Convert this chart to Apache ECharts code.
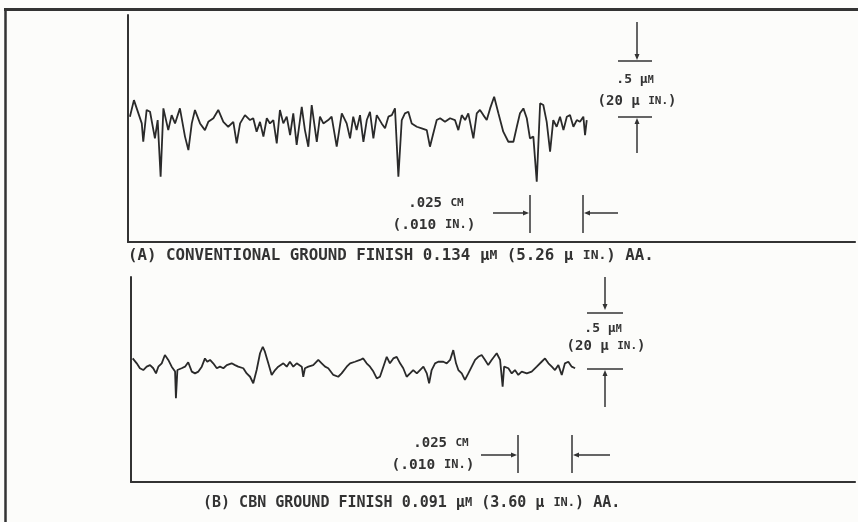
<!DOCTYPE html>
<html><head><meta charset="utf-8">
<script src="https://cdn.jsdelivr.net/npm/echarts@6/dist/echarts.min.js"></script>
<style>html,body{margin:0;padding:0;background:#fcfcfa}#c{width:858px;height:522px}</style>
</head><body><div id="c"></div>
<script>
// Profile (A): conventional ground finish. x = travel (µm), y = height (nm)
const distA = [9,28,65,72,88,104,127,140,154,167,190,206,222,245,269,285,301,316,340,363,379,403,426,450,473,497,513,529,552,576,591,607,623,639,655,670,686,702,717,733,749,765,780,796,820,835,851,867,891,906,922,945,961,985,1009,1032,1048,1063,1079,1095,1111,1127,1142,1158,1174,1197,1213,1229,1245,1260,1276,1292,1307,1323,1339,1363,1386,1410,1425,1441,1457,1473,1496,1520,1543,1559,1575,1591,1606,1630,1646,1661,1677,1693,1709,1728,1748,1771,1795,1819,1835,1850,1866,1882,1897,1913,1929,1945,1960,1976,1992,2007,2023,2039,2055,2071,2086,2102,2118,2133,2149,2157,2165];
const heightA = [12,160,-48,-212,72,56,-182,-18,-524,86,-108,26,-48,86,-166,-286,-48,72,-48,-108,-34,-2,72,-34,-78,-34,-226,-48,26,-18,-2,-122,-34,-166,-2,-48,-18,-226,72,-48,12,-152,42,-240,100,-108,-256,116,-212,12,-48,-18,12,-256,42,-48,-182,12,-108,26,-212,-18,56,-182,26,-48,-92,12,26,86,-524,-18,42,56,-48,-78,-92,-108,-256,-136,-18,-2,-34,-2,-18,-108,26,-18,42,-182,42,72,26,-18,86,190,42,-122,-212,-212,-78,42,86,-2,-182,-166,-568,132,116,-34,-300,-18,-78,12,-108,12,26,-78,-18,-34,12,-152,-18];
// Profile (B): CBN ground finish
const distB = [8,27,42,58,74,90,105,118,129,145,160,176,192,208,212,219,239,255,270,287,302,318,334,349,360,373,388,405,420,436,452,475,491,506,530,546,562,577,593,609,622,632,648,664,680,695,719,735,750,766,782,806,813,821,837,860,884,900,916,931,955,978,994,1018,1034,1057,1081,1096,1112,1128,1144,1160,1175,1191,1207,1222,1238,1254,1270,1285,1301,1317,1332,1349,1364,1380,1396,1407,1419,1435,1450,1474,1490,1506,1521,1534,1545,1561,1576,1592,1608,1624,1639,1655,1671,1686,1702,1726,1742,1754,1761,1781,1797,1812,1828,1844,1868,1891,1915,1938,1954,1970,1986,2001,2017,2033,2048,2064,2080,2096];
const heightB = [68,24,-20,-36,-6,8,-20,-66,-6,24,98,54,-6,-50,-288,-36,-20,-6,34,-50,-66,-50,-6,68,38,54,24,-20,-6,-20,8,24,8,-6,-20,-66,-96,-154,-36,114,172,128,24,-80,-36,-6,24,-6,38,-6,24,-6,-96,-20,-6,8,54,24,-6,-20,-80,-96,-66,-6,24,38,54,68,24,-6,-50,-110,-96,-6,82,24,68,82,24,-20,-96,-66,-36,-66,-36,-6,-66,-154,-36,24,38,38,24,54,142,24,-36,-66,-124,-66,-6,54,82,98,54,8,54,114,54,-184,-6,-20,-66,-36,-80,-50,-66,-50,-6,38,68,24,-6,-36,8,-80,24,38,-6,-20];

const captionA = '(A) CONVENTIONAL GROUND FINISH 0.134 µ{sc|M} (5.26 µ {sc|IN.}) AA.';
const captionB = '(B) CBN GROUND FINISH 0.091 µ{sc|M} (3.60 µ {sc|IN.}) AA.';
const vScaleTop = '.5 µ{sc|M}';
const vScaleBot = '(20 µ {sc|IN.})';
const hScaleTop = '.025 {sc|CM}';
const hScaleBot = '(.010 {sc|IN.})';

const INK = '#333333';
const FONT = '"DejaVu Sans Mono","Liberation Mono",monospace';

function pair(xs, ys){ return xs.map((x,i)=>[x, ys[i]]); }

function txt(x, y, text, size, align){
  return {type:'text', x:x, y:y, style:{text:text, fill:INK, fontFamily:FONT, fontSize:size, fontWeight:'bold',
    align:align||'center', verticalAlign:'middle',
    rich:{sc:{fontSize:Math.round(size*0.8), fontFamily:FONT, fontWeight:'bold', fill:INK}}}};
}
function ln(x1,y1,x2,y2,w){ return {type:'line', shape:{x1:x1,y1:y1,x2:x2,y2:y2}, style:{stroke:INK, lineWidth:w||1.5}}; }
function arrow(tx,ty,dir){
  const L=6, W=2.5; let pts;
  if(dir==='down') pts=[[tx,ty],[tx-W,ty-L],[tx+W,ty-L]];
  if(dir==='up') pts=[[tx,ty],[tx-W,ty+L],[tx+W,ty+L]];
  if(dir==='right') pts=[[tx,ty],[tx-L,ty-W],[tx-L,ty+W]];
  if(dir==='left') pts=[[tx,ty],[tx+L,ty-W],[tx+L,ty+W]];
  return {type:'polygon', shape:{points:pts}, style:{fill:INK}};
}

const axisCommon = {axisTick:{show:false}, axisLabel:{show:false}, splitLine:{show:false}};
const option = {
  backgroundColor:'#fcfcfa',
  animation:false,
  grid:[
    {left:128, right:3, top:15, bottom:280},
    {left:131, right:3, top:277, bottom:40}
  ],
  xAxis:[
    Object.assign({type:'value', gridIndex:0, min:0, max:3431, position:'bottom', axisLine:{show:true, onZero:false, lineStyle:{color:INK, width:2.2}}}, axisCommon),
    Object.assign({type:'value', gridIndex:1, min:0, max:3417, position:'bottom', axisLine:{show:true, onZero:false, lineStyle:{color:INK, width:2.2}}}, axisCommon)
  ],
  yAxis:[
    Object.assign({type:'value', gridIndex:0, min:-1107, max:920, axisLine:{show:true, onZero:false, lineStyle:{color:INK, width:2}}}, axisCommon),
    Object.assign({type:'value', gridIndex:1, min:-1036, max:795, axisLine:{show:true, onZero:false, lineStyle:{color:INK, width:2}}}, axisCommon)
  ],
  series:[
    {type:'line', xAxisIndex:0, yAxisIndex:0, data:pair(distA, heightA), showSymbol:false, lineStyle:{color:'#2a2a2a', width:1.8}},
    {type:'line', xAxisIndex:1, yAxisIndex:1, data:pair(distB, heightB), showSymbol:false, lineStyle:{color:'#2a2a2a', width:1.8}}
  ],
  graphic:[
    // outer frame
    ln(4,9.5,858,9.5,3), ln(5.5,9,5.5,522,2.5),
    // panel A vertical scale
    ln(637,22,637,58), arrow(637,60,'down'), ln(618,61,652,61),
    txt(635,80,vScaleTop,13), txt(637,101,vScaleBot,14),
    ln(618,117,652,117), arrow(637,118,'up'), ln(637,122,637,153),
    // panel A horizontal scale
    ln(493,213,525,213), arrow(529,213,'right'), ln(530,195,530,233),
    ln(583,195,583,233), arrow(584,213,'left'), ln(588,213,618,213),
    txt(436,203,hScaleTop,14), txt(434,225,hScaleBot,14.5),
    txt(128,256,captionA,15.8,'left'),
    // panel B vertical scale
    ln(605,277,605,307), arrow(605,310,'down'), ln(587,313,623,313),
    txt(603,329,vScaleTop,13), txt(606,346,vScaleBot,14),
    ln(587,369,623,369), arrow(605,370,'up'), ln(605,374,605,407),
    // panel B horizontal scale
    ln(481,455,513,455), arrow(517,455,'right'), ln(518,435,518,473),
    ln(572,435,572,473), arrow(573,455,'left'), ln(577,455,610,455),
    txt(441,443,hScaleTop,14), txt(433,465,hScaleBot,14.5),
    txt(203,503,captionB,15,'left')
  ]
};
echarts.init(document.getElementById('c'), null, {renderer:'canvas'}).setOption(option);
</script></body></html>
